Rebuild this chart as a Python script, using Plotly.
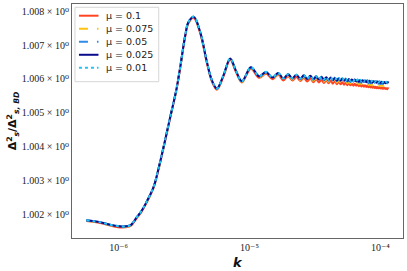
import plotly.graph_objects as go

# wavenumber k
k = [0.567e-6, 0.725e-6, 0.864e-6, 1.067e-6, 1.228e-6, 1.382e-6, 1.491e-6, 1.6e-6, 1.85e-6, 2.019e-6,
     2.206e-6, 2.48e-6,
     2.757e-6, 2.958e-6, 3.23e-6, 3.42e-6, 3.75e-6, 4.2e-6, 4.73e-6, 5.16e-6, 5.64e-6, 6.33e-6,
     7.12e-6, 7.85e-6, 8.75e-6, 10.25e-6, 11.85e-6, 13.4e-6, 15.0e-6, 16.55e-6, 18.15e-6, 19.7e-6,
     21.3e-6, 22.85e-6, 24.45e-6, 26.0e-6, 27.6e-6, 29.15e-6, 30.75e-6, 32.3e-6, 33.9e-6, 35.45e-6,
     37.05e-6, 38.6e-6, 40.2e-6, 41.75e-6, 43.35e-6, 44.9e-6, 46.5e-6, 48.05e-6, 49.65e-6, 51.2e-6,
     52.8e-6, 54.35e-6, 55.95e-6, 57.5e-6, 59.1e-6, 60.65e-6, 62.25e-6, 63.8e-6, 65.4e-6, 66.95e-6,
     68.55e-6, 70.1e-6, 71.7e-6, 73.25e-6, 74.85e-6, 76.4e-6, 78.0e-6, 79.55e-6, 81.15e-6, 82.7e-6,
     84.3e-6, 85.85e-6, 87.45e-6, 89.0e-6, 90.6e-6, 92.15e-6, 93.75e-6, 95.3e-6, 96.9e-6, 98.45e-6,
     100.05e-6, 101.6e-6, 103.2e-6, 104.75e-6, 106.35e-6, 107.9e-6, 109.5e-6, 111.05e-6, 112.65e-6, 114.2e-6,
     116.0e-6]

# ratio values, stored as parts-per-million above 1
ppm_mu_0100 = [1808, 1749, 1675, 1622, 1660, 1905, 2073, 2279, 2790, 3333, 3970, 4855,
               5643, 6330, 7254, 7646, 7800, 7351, 6466, 5927, 5682, 6074,
               6567, 6222, 5897, 6304, 6033, 6159, 5994, 6121, 5956, 6083,
               5956, 6059, 5941, 6035, 5923, 6020, 5906, 5995, 5897, 5971,
               5882, 5959, 5874, 5944, 5862, 5935, 5847, 5917, 5844, 5903,
               5832, 5894, 5817, 5876, 5814, 5861, 5802, 5855, 5799, 5840,
               5784, 5834, 5775, 5823, 5772, 5812, 5761, 5806, 5753, 5794,
               5750, 5782, 5741, 5776, 5732, 5767, 5729, 5761, 5723, 5755,
               5720, 5749, 5714, 5743, 5708, 5737, 5705, 5728, 5696, 5726,
               5714]
ppm_mu_0075 = [1820, 1761, 1687, 1634, 1672, 1917, 2085, 2291, 2802, 3345, 3982, 4867,
               5655, 6342, 7271, 7663, 7817, 7368, 6483, 5944, 5699, 6091,
               6584, 6239, 5914, 6323, 6055, 6181, 6016, 6147, 5982, 6109,
               5986, 6089, 5971, 6069, 5957, 6054, 5945, 6034, 5936, 6014,
               5925, 6002, 5917, 5989, 5907, 5980, 5896, 5966, 5893, 5955,
               5884, 5946, 5873, 5932, 5870, 5920, 5861, 5914, 5858, 5902,
               5846, 5896, 5840, 5888, 5837, 5879, 5828, 5873, 5823, 5864,
               5820, 5855, 5814, 5849, 5807, 5842, 5804, 5836, 5800, 5832,
               5797, 5827, 5792, 5821, 5787, 5816, 5784, 5810, 5778, 5808,
               5796]
ppm_mu_0050 = [1829, 1770, 1696, 1643, 1681, 1926, 2094, 2300, 2811, 3354, 3991, 4876,
               5664, 6351, 7283, 7675, 7829, 7380, 6495, 5956, 5711, 6103,
               6596, 6251, 5926, 6337, 6071, 6197, 6032, 6166, 6001, 6128,
               6008, 6111, 5993, 6094, 5982, 6079, 5973, 6062, 5964, 6045,
               5956, 6033, 5948, 6022, 5940, 6013, 5932, 6002, 5929, 5993,
               5922, 5984, 5914, 5973, 5911, 5962, 5903, 5956, 5900, 5948,
               5892, 5942, 5887, 5935, 5884, 5928, 5877, 5922, 5874, 5915,
               5871, 5907, 5866, 5901, 5862, 5897, 5859, 5891, 5855, 5887,
               5852, 5884, 5849, 5878, 5845, 5874, 5842, 5869, 5837, 5867,
               5855]
ppm_mu_0025 = [1834, 1775, 1701, 1648, 1686, 1931, 2099, 2305, 2816, 3359, 3996, 4881,
               5669, 6356, 7290, 7682, 7836, 7387, 6502, 5963, 5718, 6110,
               6603, 6258, 5933, 6346, 6081, 6207, 6042, 6177, 6012, 6139,
               6021, 6124, 6006, 6108, 5996, 6093, 5990, 6079, 5981, 6063,
               5974, 6051, 5966, 6042, 5960, 6033, 5953, 6023, 5950, 6015,
               5944, 6006, 5938, 5997, 5935, 5987, 5928, 5981, 5925, 5975,
               5919, 5969, 5916, 5964, 5913, 5957, 5906, 5951, 5904, 5945,
               5901, 5939, 5898, 5933, 5894, 5929, 5891, 5923, 5888, 5920,
               5885, 5917, 5882, 5911, 5879, 5908, 5876, 5905, 5873, 5903,
               5891]
ppm_mu_0010 = [1835, 1776, 1702, 1649, 1687, 1932, 2100, 2306, 2817, 3360, 3997, 4882,
               5670, 6357, 7292, 7684, 7838, 7389, 6504, 5965, 5720, 6112,
               6605, 6260, 5935, 6348, 6083, 6209, 6044, 6180, 6015, 6142,
               6024, 6127, 6009, 6112, 6000, 6097, 5994, 6083, 5985, 6068,
               5979, 6056, 5971, 6047, 5965, 6038, 5959, 6029, 5956, 6021,
               5950, 6012, 5944, 6003, 5941, 5994, 5935, 5988, 5932, 5982,
               5926, 5976, 5923, 5971, 5920, 5965, 5914, 5959, 5912, 5953,
               5909, 5947, 5906, 5941, 5903, 5938, 5900, 5932, 5897, 5929,
               5894, 5926, 5891, 5920, 5888, 5917, 5885, 5914, 5882, 5912,
               5900]

labels = ["μ = 0.1", "μ = 0.075", "μ = 0.05", "μ = 0.025", "μ = 0.01"]
colors = ["#FF4422", "#FFC20E", "#2E8BEA", "#0A0A8C", "#22C4F4"]
dashes = ["solid", "dash", "dash", "solid", "dot"]
series = [ppm_mu_0100, ppm_mu_0075, ppm_mu_0050, ppm_mu_0025, ppm_mu_0010]

ytick_vals = [1.002, 1.003, 1.004, 1.005, 1.006, 1.007, 1.008]
ytick_text = ["1.002 × 10⁰", "1.003 × 10⁰", "1.004 × 10⁰", "1.005 × 10⁰",
              "1.006 × 10⁰", "1.007 × 10⁰", "1.008 × 10⁰"]
xtick_vals = [1e-6, 1e-5, 1e-4]
xtick_text = ["10⁻⁶", "10⁻⁵", "10⁻⁴"]

fig = go.Figure()
for lab, col, dsh, s in zip(labels, colors, dashes, series):
    fig.add_trace(go.Scatter(
        x=k, y=[1 + v * 1e-6 for v in s], mode="lines", name=lab, showlegend=False,
        line=dict(color=col, width=2, dash=dsh, shape="spline", smoothing=1.0)))

# compact legend box (top-left, inside the axes)
shapes = [dict(type="rect", xref="paper", yref="paper", x0=0.009, x1=0.262, y0=0.668, y1=0.986,
               line=dict(color="#d6d6d6", width=1), fillcolor="rgba(255,255,255,0.9)", layer="above")]
annotations = []
row_y = [0.950, 0.894, 0.839, 0.783, 0.728]
for lab, col, dsh, yy in zip(labels, colors, dashes, row_y):
    shapes.append(dict(type="line", xref="paper", yref="paper", x0=0.021, x1=0.080, y0=yy, y1=yy,
                       line=dict(color=col, width=2, dash=dsh), layer="above"))
    annotations.append(dict(xref="paper", yref="paper", x=0.097, y=yy, text=lab, showarrow=False,
                            xanchor="left", yanchor="middle",
                            font=dict(family="DejaVu Sans", size=9.5, color="#222")))
# x-axis title
annotations.append(dict(xref="paper", yref="paper", x=0.5, y=-0.103, text="<b><i>k</i></b>",
                        showarrow=False, xanchor="center", yanchor="middle",
                        font=dict(family="DejaVu Sans", size=13, color="#111")))

fig.update_layout(
    width=407, height=271,
    margin=dict(l=72, r=4, t=4, b=33),
    paper_bgcolor="white", plot_bgcolor="white",
    shapes=shapes, annotations=annotations,
    xaxis=dict(type="log", range=[-6.356, -3.827], tickvals=xtick_vals, ticktext=xtick_text,
               showgrid=False, zeroline=False, showline=True, mirror=True,
               linecolor="#666", linewidth=1, ticks="", ticklen=0,
               tickfont=dict(family="Liberation Serif, DejaVu Serif", size=10, color="#222")),
    yaxis=dict(range=[1.00131, 1.00821], tickvals=ytick_vals, ticktext=ytick_text,
               showgrid=False, zeroline=False, showline=True, mirror=True,
               linecolor="#666", linewidth=1, ticks="", ticklen=0,
               tickfont=dict(family="Liberation Serif, DejaVu Serif", size=10, color="#222"),
               title=dict(text="<b>Δ<sup>2</sup><sub><i>s</i></sub>/Δ<sup>2</sup><sub><i>s, BD</i></sub></b>",
                          standoff=2,
                          font=dict(family="DejaVu Sans", size=11, color="#111"))),
)

fig.write_html("out.html", config={"displayModeBar": False},
               post_script="document.body.style.margin='0';")
